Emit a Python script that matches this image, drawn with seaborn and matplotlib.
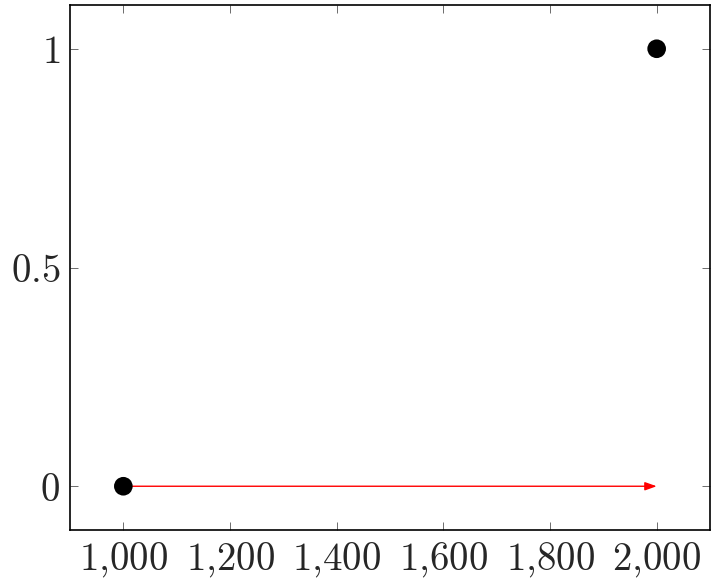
import matplotlib
matplotlib.use("Agg")
import matplotlib.pyplot as plt
import seaborn as sns
import pandas as pd

sns.set_style("ticks")
plt.rcParams["mathtext.fontset"] = "cm"
plt.rcParams["font.family"] = ["serif"]
plt.rcParams["font.serif"] = ["DejaVu Serif"]

xs = [1000, 2000]
ys = [0, 1]
arrow_start = (1000, 0)
arrow_end = (2000, 0)
xticks = [1000, 1200, 1400, 1600, 1800, 2000]
yticks = [0, 0.5, 1]

df = pd.DataFrame({"x": xs, "y": ys})

fig = plt.figure(figsize=(7.16, 5.85), dpi=100)
ax = fig.add_axes([70 / 716, 55 / 585, 640 / 716, 525 / 585])

ax.annotate("", xy=arrow_end, xytext=arrow_start,
            arrowprops=dict(arrowstyle="-|>,head_length=0.7,head_width=0.25",
                            color="red", lw=1.0, shrinkA=0, shrinkB=0))
sns.scatterplot(data=df, x="x", y="y", ax=ax, color="black", s=180,
                edgecolor="none", zorder=3)

ax.set_xlim(900, 2100)
ax.set_ylim(-0.1, 1.1)
ax.set_xticks(xticks)
ax.set_yticks(yticks)
ax.set_xticklabels([r"$%d{,}%03d$" % (v // 1000, v % 1000) for v in xticks])
ax.set_yticklabels([r"$0$", r"$0.5$", r"$1$"])
ax.set_xlabel("")
ax.set_ylabel("")
ax.tick_params(direction="in", length=6, width=0.6, color="#555555",
               top=True, right=True, labelsize=28, pad=7)
for sp in ax.spines.values():
    sp.set_linewidth(1.2)
    sp.set_color("black")

fig.savefig("out.png", dpi=100)
